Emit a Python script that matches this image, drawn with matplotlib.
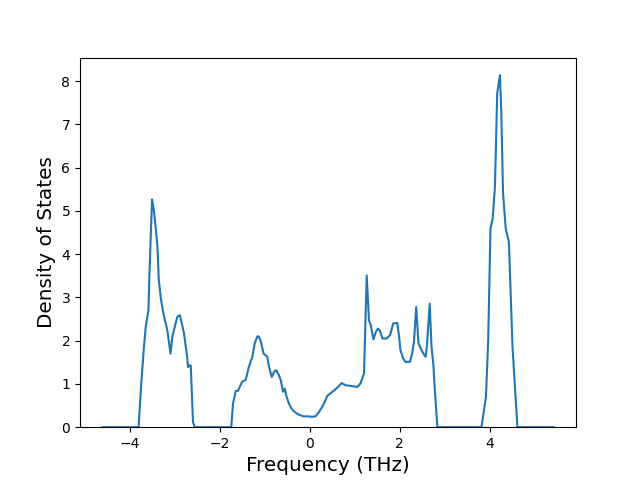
import matplotlib
matplotlib.use("Agg")
import matplotlib.pyplot as plt

# phonon density of states
freq = [-4.60, -3.80, -3.74, -3.68, -3.64, -3.58, -3.56, -3.50, -3.46, -3.42,
        -3.38, -3.35, -3.30, -3.24, -3.16, -3.09, -3.05, -2.94, -2.88, -2.79,
        -2.72, -2.70, -2.67, -2.64, -2.59, -2.55, -1.74, -1.70, -1.64, -1.59,
        -1.50, -1.42, -1.35, -1.27, -1.22, -1.16, -1.13, -1.09, -1.02, -0.94,
        -0.90, -0.84, -0.79, -0.74, -0.68, -0.64, -0.59, -0.55, -0.52, -0.46,
        -0.40, -0.33, -0.24, -0.13, -0.02, 0.05, 0.13, 0.21, 0.28, 0.34,
        0.39, 0.47, 0.56, 0.65, 0.71, 0.80, 0.95, 1.06, 1.13, 1.21,
        1.27, 1.32, 1.36, 1.42, 1.47, 1.52, 1.56, 1.62, 1.71, 1.79,
        1.86, 1.95, 1.99, 2.02, 2.08, 2.13, 2.23, 2.28, 2.32, 2.37,
        2.42, 2.47, 2.53, 2.58, 2.61, 2.67, 2.71, 2.75, 2.78, 2.84,
        3.82, 3.92, 3.97, 4.02, 4.07, 4.12, 4.17, 4.23, 4.26, 4.30,
        4.36, 4.43, 4.51, 4.62, 5.42]
dos = [0.00, 0.00, 1.01, 1.86, 2.32, 2.71, 3.48, 5.27, 5.02, 4.63,
       4.17, 3.40, 2.94, 2.59, 2.24, 1.70, 2.09, 2.55, 2.59, 2.17,
       1.63, 1.39, 1.43, 1.43, 0.12, 0.00, 0.00, 0.55, 0.84, 0.84,
       1.05, 1.09, 1.39, 1.63, 1.94, 2.10, 2.10, 2.01, 1.70, 1.63,
       1.39, 1.16, 1.28, 1.32, 1.20, 1.09, 0.82, 0.89, 0.74, 0.55,
       0.43, 0.35, 0.29, 0.25, 0.25, 0.24, 0.25, 0.35, 0.47, 0.59,
       0.72, 0.79, 0.86, 0.95, 1.02, 0.97, 0.95, 0.93, 1.01, 1.24,
       3.51, 2.47, 2.36, 2.03, 2.20, 2.28, 2.24, 2.05, 2.05, 2.13,
       2.40, 2.41, 2.09, 1.78, 1.59, 1.51, 1.51, 1.70, 1.97, 2.78,
       1.94, 1.82, 1.70, 1.63, 1.90, 2.86, 1.86, 1.47, 0.93, 0.00,
       0.00, 0.70, 2.01, 4.59, 4.83, 5.56, 7.72, 8.14, 7.33, 5.40,
       4.59, 4.28, 1.86, 0.00, 0.00]

plt.figure(figsize=(6.4, 4.8))
plt.plot(freq, dos)
plt.ylim(bottom=0)
plt.xlabel("Frequency (THz)", fontsize="x-large")
plt.ylabel("Density of States", fontsize="x-large")
plt.savefig("out.png", dpi=100)
plt.close()
